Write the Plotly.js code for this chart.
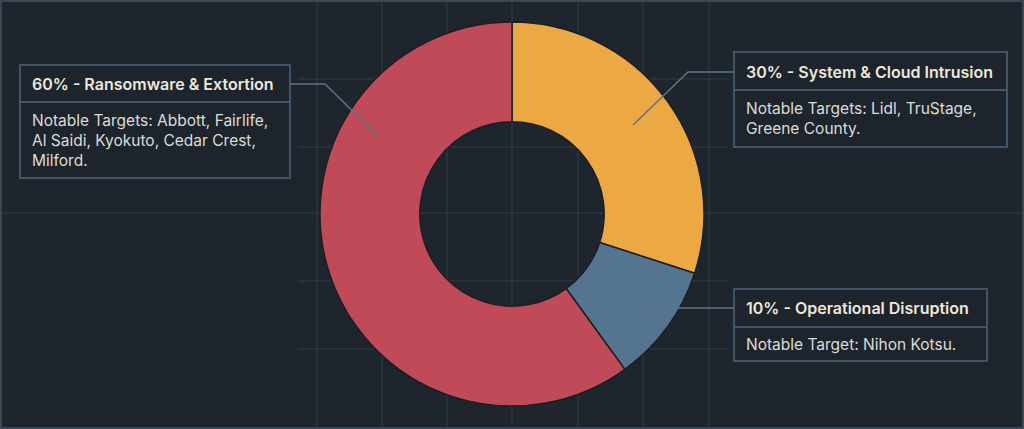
<!DOCTYPE html>
<html>
<head>
<meta charset="utf-8">
<script src="https://cdn.plot.ly/plotly-3.0.1.min.js"></script>
<style>
html,body{margin:0;padding:0;background:#1f252d;}
#chart{width:1024px;height:429px;}
</style>
</head>
<body>
<div id="chart"></div>
<script>
// ---- data ----
const categories = ['System & Cloud Intrusion', 'Operational Disruption', 'Ransomware & Extortion'];
const shares = [30, 10, 60];
const notes = [
  ['Notable Targets: Lidl, TruStage,', 'Greene County.'],
  ['Notable Target: Nihon Kotsu.'],
  ['Notable Targets: Abbott, Fairlife,', 'Al Saidi, Kyokuto, Cedar Crest,', 'Milford.']
];
const sliceColors = ['#ECA842', '#55748F', '#C04A57'];

// ---- layout helpers ----
const W = 1024, H = 429;
const px = x => x / W;
const py = y => 1 - y / H;

const gridColor = '#323d48';
const boxColor = '#4b647a';
const leaderColor = '#5b7689';

// callout geometry (pixels), one per category
const callouts = [
  {box: [734, 52, 1007, 147], div: 90, titleY: 72, lineY: 108, leader: [[734, 72], [688, 72], [633, 125]]},
  {box: [734, 289, 987, 361], div: 327, titleY: 308, lineY: 344, leader: [[734, 308], [637, 308]]},
  {box: [20, 65, 290, 178], div: 102, titleY: 84, lineY: 120, leader: [[290, 84], [325, 84], [380, 138]]}
];

const shapes = [];
const annotations = [];

// background grid
[317, 382, 447, 512, 578, 643, 709].forEach(x => {
  shapes.push({type: 'line', xref: 'paper', yref: 'paper', x0: px(x), x1: px(x), y0: 0, y1: 1,
    line: {color: gridColor, width: 1}, layer: 'below'});
});
shapes.push({type: 'line', xref: 'paper', yref: 'paper', x0: 0, x1: 1, y0: py(213), y1: py(213),
  line: {color: gridColor, width: 1}, layer: 'below'});
[79, 147, 281, 349].forEach(y => {
  shapes.push({type: 'line', xref: 'paper', yref: 'paper', x0: px(298), x1: px(727), y0: py(y), y1: py(y),
    line: {color: gridColor, width: 1}, layer: 'below'});
});
shapes.push({type: 'rect', xref: 'paper', yref: 'paper', x0: px(1), x1: px(1023), y0: py(1), y1: py(428),
  line: {color: '#3a4756', width: 2}, layer: 'below'});

categories.forEach((cat, i) => {
  const c = callouts[i];
  const [x0, y0, x1, y1] = c.box;
  shapes.push({type: 'rect', xref: 'paper', yref: 'paper', x0: px(x0), x1: px(x1), y0: py(y0), y1: py(y1),
    line: {color: boxColor, width: 1.5}, fillcolor: 'rgba(31,37,45,0.85)', layer: 'above'});
  shapes.push({type: 'line', xref: 'paper', yref: 'paper', x0: px(x0), x1: px(x1), y0: py(c.div), y1: py(c.div),
    line: {color: boxColor, width: 1.5}, layer: 'above'});
  const path = c.leader.map((p, k) => (k ? 'L' : 'M') + px(p[0]) + ',' + py(p[1])).join(' ');
  shapes.push({type: 'path', xref: 'paper', yref: 'paper', path: path,
    line: {color: leaderColor, width: 1.5}, layer: 'above'});
  annotations.push({xref: 'paper', yref: 'paper', x: px(x0 + 10), y: py(c.titleY),
    xanchor: 'left', yanchor: 'middle', showarrow: false,
    text: shares[i] + '% - ' + cat,
    font: {family: 'Inter, sans-serif', size: 16, color: '#ECE8DA', weight: 600}});
  notes[i].forEach((line, k) => {
    annotations.push({xref: 'paper', yref: 'paper', x: px(x0 + 10), y: py(c.lineY + k * 20),
      xanchor: 'left', yanchor: 'middle', showarrow: false,
      text: line,
      font: {family: 'Inter, sans-serif', size: 15.5, color: '#DCDCD8', weight: 400}});
  });
});

const trace = {
  type: 'pie',
  labels: categories,
  values: shares,
  sort: false,
  direction: 'clockwise',
  rotation: 0,
  hole: 0.48,
  textinfo: 'none',
  hoverinfo: 'skip',
  marker: {colors: sliceColors, line: {color: '#1a1f26', width: 1.5}},
  domain: {x: [px(320), px(704)], y: [py(406), py(22)]},
  showlegend: false
};

const layout = {
  width: W, height: H,
  margin: {l: 0, r: 0, t: 0, b: 0},
  paper_bgcolor: '#1f252d',
  plot_bgcolor: '#1f252d',
  showlegend: false,
  shapes: shapes,
  annotations: annotations
};

Plotly.newPlot('chart', [trace], layout, {displayModeBar: false, staticPlot: true});
</script>
</body>
</html>
